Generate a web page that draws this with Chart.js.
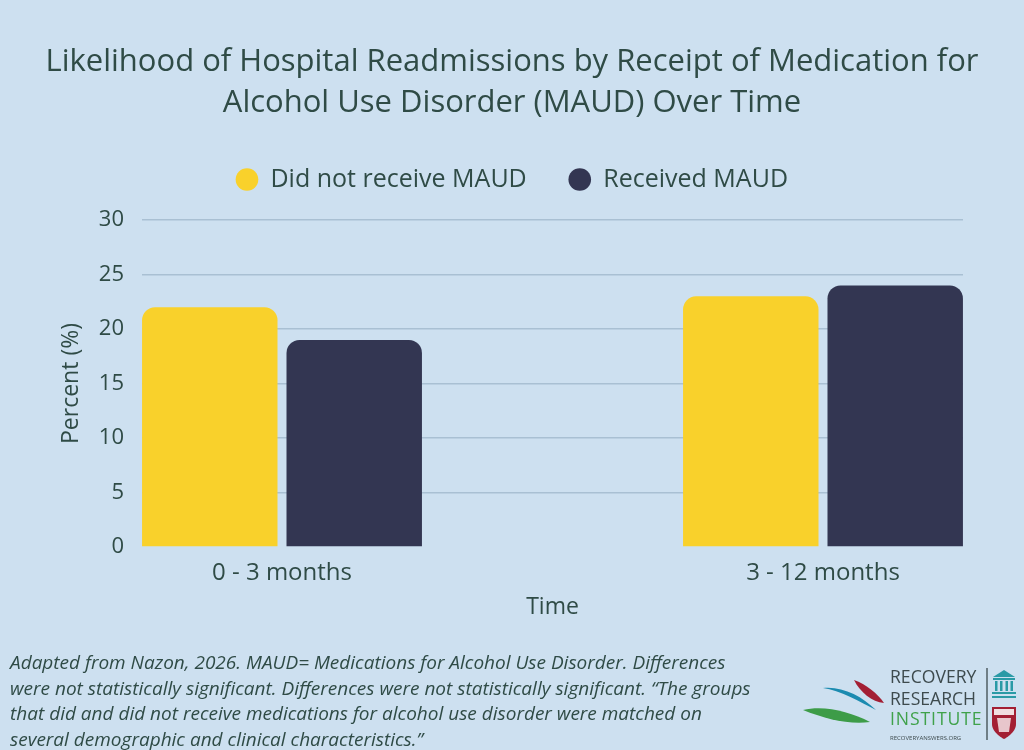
<!DOCTYPE html>
<html>
<head>
<meta charset="utf-8">
<script src="https://cdn.jsdelivr.net/npm/chart.js@4.4.1/dist/chart.umd.min.js"></script>
<style>
  html, body { margin: 0; padding: 0; background: #cde0f0; }
  body { width: 1024px; height: 750px; position: relative; overflow: hidden; font-family: 'Open Sans', sans-serif; }
  #wrap { position: absolute; left: 0; top: 0; width: 1024px; height: 750px; }
  #note { position: absolute; left: 10px; top: 650px; white-space: nowrap; font-style: italic; font-size: 19px; line-height: 25.7px; color: #2f4b46; }
  #logo { position: absolute; left: 790px; top: 650px; width: 234px; height: 100px; }
  .lt { position: absolute; left: 100px; font-family: 'Open Sans', sans-serif; color: #3d4a4d; font-size: 17.6px; line-height: 17px; white-space: nowrap; }
</style>
</head>
<body>
<div id="wrap"><canvas id="c" width="1024" height="750"></canvas></div>
<div id="note">Adapted from Nazon, 2026. MAUD= Medications for Alcohol Use Disorder. Differences<br>were not statistically significant. Differences were not statistically significant. “The groups<br>that did and did not receive medications for alcohol use disorder were matched on<br>several demographic and clinical characteristics.”</div>
<div id="logo">
  <svg width="234" height="100" style="position:absolute;left:0;top:0">
    <path d="M64 30 C 70 42, 82 52, 94 53 C 88 44, 76 34, 64 30 Z" fill="#a31f34"/>
    <path d="M33 38 C 50 40, 70 52, 86 60 C 72 46, 52 36, 33 38 Z" fill="#1b8bb0"/>
    <path d="M13 60 C 35 55, 60 62, 80 72 C 60 75, 35 69, 13 60 Z" fill="#3d9c48"/>
    <line x1="197" y1="18" x2="197" y2="90" stroke="#3d4a4d" stroke-width="1.3"/>
    <g fill="#2a9aa6">
      <path d="M203 27 L214 20 L225 27 Z"/>
      <rect x="203" y="28" width="22" height="2"/>
      <rect x="205" y="31" width="2.5" height="10"/>
      <rect x="210" y="31" width="2.5" height="10"/>
      <rect x="215.5" y="31" width="2.5" height="10"/>
      <rect x="220.5" y="31" width="2.5" height="10"/>
      <rect x="202" y="42" width="24" height="2"/>
      <rect x="202" y="46" width="24" height="2"/>
    </g>
    <path d="M202 57 L226 57 L226 74 C 226 83, 214 89, 214 89 C 214 89, 202 83, 202 74 Z" fill="#a31f34"/>
    <rect x="204" y="59" width="20" height="6" fill="#ffffff" opacity="0.85"/>
    <path d="M207 68 L221 68 L219 82 L209 82 Z" fill="#ffffff" opacity="0.75"/>
  </svg>
  <div class="lt" style="top:18px;">RECOVERY</div>
  <div class="lt" style="top:40px;">RESEARCH</div>
  <div class="lt" style="top:60px;color:#3fa14a;letter-spacing:0.9px;">INSTITUTE</div>
  <div class="lt" style="top:85px;font-size:6px;line-height:6px;">RECOVERYANSWERS.ORG</div>
</div>
<script>
const categories = ['0 - 3 months', '3 - 12 months'];
const seriesNames = ['Did not receive MAUD', 'Received MAUD'];
const notReceivedMAUD = [22, 23];
const receivedMAUD = [19, 24];
const yTickValues = [0, 5, 10, 15, 20, 25, 30];
const titleLines = ['Likelihood of Hospital Readmissions by Receipt of Medication for', 'Alcohol Use Disorder (MAUD) Over Time'];
const xAxisTitle = 'Time';
const yAxisTitle = 'Percent (%)';

const TEXT = '#2f4b46';
const FONT = "'Open Sans', sans-serif";
const colors = ['#f9d12b', '#333652'];

const toPoints = arr => arr.map((v, i) => ({ x: i, y: v }));

// empty layout boxes: a gap below the legend and a margin right of the plot area
const spacer = {
  id: 'spacer',
  beforeInit(chart) {
    Chart.layouts.addBox(chart, {
      position: 'top', weight: 500, fullSize: true,
      options: { stackWeight: 1 },
      left: 0, top: 0, right: 0, bottom: 0, width: 0, height: 0,
      isHorizontal() { return true; },
      update(maxWidth) { this.width = maxWidth; this.height = 18; },
      draw() {}
    });
    Chart.layouts.addBox(chart, {
      position: 'right', weight: 500, fullSize: false,
      options: { stackWeight: 1 },
      left: 0, top: 0, right: 0, bottom: 0, width: 0, height: 0,
      isHorizontal() { return false; },
      update(maxWidth, maxHeight) { this.width = 21; this.height = maxHeight; },
      draw() {}
    });
  }
};

new Chart(document.getElementById('c'), {
  type: 'bar',
  plugins: [spacer],
  data: {
    datasets: [
      { label: seriesNames[0], data: toPoints(notReceivedMAUD), backgroundColor: colors[0], borderRadius: 13, borderSkipped: 'start' },
      { label: seriesNames[1], data: toPoints(receivedMAUD), backgroundColor: colors[1], borderRadius: 13, borderSkipped: 'start' }
    ]
  },
  options: {
    responsive: false,
    animation: false,
    devicePixelRatio: 1,
    categoryPercentage: 0.534,
    barPercentage: 0.9377,
    layout: { padding: { left: 40, right: 40, top: 0, bottom: 123 } },
    plugins: {
      title: {
        display: true,
        text: titleLines,
        color: TEXT,
        font: { family: FONT, size: 31, weight: 'normal', lineHeight: 1.323 },
        padding: { top: 42, bottom: 1 }
      },
      legend: {
        display: true,
        labels: {
          usePointStyle: true,
          pointStyle: 'circle',
          boxWidth: 22,
          boxHeight: 16,
          padding: 42,
          color: TEXT,
          font: { family: FONT, size: 25 }
        }
      },
      tooltip: { enabled: false }
    },
    scales: {
      x: {
        type: 'linear',
        min: -0.2588,
        max: 1.2588,
        offset: false,
        grid: { display: false },
        border: { display: false },
        afterBuildTicks: s => { s.ticks = categories.map((_, i) => ({ value: i })); },
        afterFit: s => { s.height = 80; },
        ticks: {
          autoSkip: false,
          maxRotation: 0,
          padding: 4,
          color: TEXT,
          font: { family: FONT, size: 24 },
          callback: v => categories[v]
        },
        title: { display: true, text: xAxisTitle, color: TEXT, font: { family: FONT, size: 23 }, padding: { top: 0, bottom: 6 } }
      },
      y: {
        min: 0,
        max: 30,
        afterBuildTicks: s => { s.ticks = yTickValues.map(v => ({ value: v })); },
        afterFit: s => { s.width = 102; },
        grid: {
          drawTicks: false,
          color: c => (c.tick && c.tick.value === 0) ? 'rgba(0,0,0,0)' : '#a9c0d3',
          lineWidth: 1.5
        },
        border: { display: false },
        ticks: { padding: 18, color: TEXT, font: { family: FONT, size: 22 } },
        title: { display: true, text: yAxisTitle, color: TEXT, font: { family: FONT, size: 23 }, padding: { top: 18, bottom: 0 } }
      }
    }
  }
});
</script>
</body>
</html>
